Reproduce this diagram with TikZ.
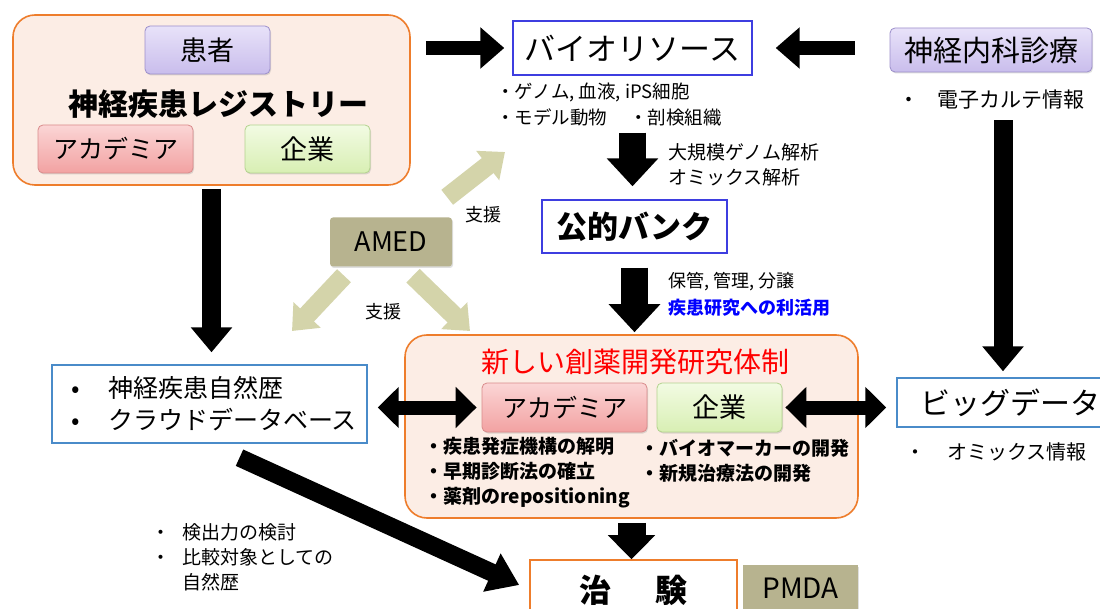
\documentclass[tikz,border=0pt]{standalone}
\usepackage{fontspec}
\setmainfont{Noto Sans CJK JP}
\usetikzlibrary{arrows.meta,shadows}
\definecolor{orgC}{HTML}{EE7D2C}
\definecolor{peach}{HTML}{FCEDE5}
\definecolor{purT}{HTML}{E8E2F9}
\definecolor{purB}{HTML}{C9BDEC}
\definecolor{purD}{HTML}{9C8FCB}
\definecolor{pinkT}{HTML}{FBD5D5}
\definecolor{pinkB}{HTML}{F2A2A2}
\definecolor{pinkD}{HTML}{D98B8B}
\definecolor{grnT}{HTML}{F2FBE3}
\definecolor{grnB}{HTML}{D8EFB3}
\definecolor{grnD}{HTML}{B3D38E}
\definecolor{bioB}{HTML}{3E3EE0}
\definecolor{stB}{HTML}{4A8BC9}
\definecolor{oliveC}{HTML}{B7B38F}
\definecolor{ltA}{HTML}{D4D4AA}
\begin{document}
\begin{tikzpicture}[x=1pt,y=-1pt,
  bigbox/.style={draw=orgC, line width=1.6pt, rounded corners=22pt, fill=peach, inner sep=0pt},
  shd/.style={drop shadow={opacity=0.25,shadow xshift=1pt,shadow yshift=-1.5pt}},
  tagP/.style={draw=purD, line width=0.8pt, rounded corners=5pt, top color=purT, bottom color=purB, shd, inner sep=0pt},
  tagR/.style={draw=pinkD, line width=0.8pt, rounded corners=5pt, top color=pinkT, bottom color=pinkB, shd, inner sep=0pt},
  tagG/.style={draw=grnD, line width=0.8pt, rounded corners=5pt, top color=grnT, bottom color=grnB, shd, inner sep=0pt},
  framebox/.style={draw=bioB, line width=1.4pt, fill=white, inner sep=0pt},
  stbox/.style={draw=stB, line width=1.4pt, fill=white, inner sep=0pt},
  olbox/.style={fill=oliveC, rounded corners=3pt, shd, inner sep=0pt},
  txt/.style={inner sep=0pt, anchor=west, align=left},
  Ah/.style={line width=14pt, -{Triangle[width=40pt,length=24pt]}},
  Ad/.style={line width=14pt, {Triangle[width=40pt,length=21pt]}-{Triangle[width=40pt,length=21pt]}},
  Av/.style={line width=19pt, -{Triangle[width=40pt,length=25pt]}},
  Aw/.style={line width=27pt, -{Triangle[width=50pt,length=28pt]}},
  Ag/.style={line width=18pt, -{Triangle[width=40pt,length=30pt]}},
  Al/.style={line width=19pt, draw=ltA, -{Triangle[width=36pt,length=22pt]}}
]
\useasboundingbox (0,0) rectangle (1100,609);
\fill[white] (0,0) rectangle (1100,609);

% registry
\node[bigbox, minimum width=397pt, minimum height=170pt] (reg) at (211.5,100) {};
\node[tagP, minimum width=125pt, minimum height=48pt, font=\fontsize{27}{30}\selectfont] (pat) at (207.5,50) {患者};
\node[inner sep=0pt, font=\fontsize{30}{34}\selectfont\bfseries] (regt) at (218,104) {神経疾患レジストリー};
\node[tagR, minimum width=155pt, minimum height=48pt, font=\fontsize{25}{28}\selectfont] (rac) at (115.5,149) {アカデミア};
\node[tagG, minimum width=125pt, minimum height=48pt, font=\fontsize{27}{30}\selectfont] (rco) at (307.5,149) {企業};

% bioresource
\node[framebox, minimum width=239pt, minimum height=54pt, font=\fontsize{31}{34}\selectfont] (bio) at (632.5,48) {バイオリソース};
\node[txt, font=\fontsize{18.5}{26}\selectfont] (biot) at (496,105) {・ゲノム, 血液, iPS細胞\\・モデル動物\hspace{22pt}・剖検組織};

% neurology
\node[tagP, minimum width=202pt, minimum height=44pt, font=\fontsize{29}{32}\selectfont] (neu) at (991,50) {神経内科診療};
\node[txt, font=\fontsize{21}{24}\selectfont] (neut) at (898,100) {・\hspace{18pt}電子カルテ情報};

% bank
\node[framebox, minimum width=185pt, minimum height=53pt, font=\fontsize{31}{34}\selectfont\bfseries] (bank) at (634.5,226.5) {公的バンク};
\node[txt, font=\fontsize{19}{25}\selectfont] (ana) at (668,165) {大規模ゲノム解析\\オミックス解析};
\node[txt, font=\fontsize{18}{27}\selectfont] (bankt) at (668,294) {保管, 管理, 分譲\\\textcolor{blue}{\bfseries 疾患研究への利活用}};

% AMED
\node[olbox, minimum width=122pt, minimum height=49pt, font=\fontsize{27}{30}\selectfont] (amed) at (391,242) {AMED};
\node[inner sep=0pt, font=\fontsize{18}{20}\selectfont] (s1) at (483,215) {支援};
\node[inner sep=0pt, font=\fontsize{18}{20}\selectfont] (s2) at (383,312) {支援};

% natural history
\node[stbox, minimum width=315pt, minimum height=78pt, text width=277pt, align=left, font=\fontsize{25}{32}\selectfont] (nat) at (209.5,404) {\makebox[37pt][l]{•}神経疾患自然歴\\\makebox[37pt][l]{•}クラウドデータベース};

% new system
\node[bigbox, minimum width=453pt, minimum height=183pt] (nb) at (631.5,426.5) {};
\node[inner sep=0pt, text=red, font=\fontsize{28}{32}\selectfont] (nbt) at (635,362) {新しい創薬開発研究体制};
\node[tagR, minimum width=165pt, minimum height=49pt, font=\fontsize{25}{28}\selectfont] (nac) at (564.5,407.5) {アカデミア};
\node[tagG, minimum width=125pt, minimum height=49pt, font=\fontsize{27}{30}\selectfont] (nco) at (719.5,407.5) {企業};
\node[txt, font=\fontsize{19}{25}\selectfont\bfseries] (nbl) at (424,473) {・疾患発症機構の解明\\・早期診断法の確立\\・薬剤のrepositioning};
\node[txt, font=\fontsize{19}{25}\selectfont\bfseries] (nbr) at (640,460.5) {・バイオマーカーの開発\\・新規治療法の開発};

% big data
\node[stbox, minimum width=226pt, minimum height=49pt, font=\fontsize{30}{34}\selectfont] (big) at (1010,402.5) {ビッグデータ};
\node[txt, font=\fontsize{20}{22}\selectfont] (bigt) at (905,452) {・\hspace{22pt}オミックス情報};

% trial
\node[draw=orgC, line width=1.6pt, fill=white, minimum width=207pt, minimum height=60pt, inner sep=0pt, font=\fontsize{32}{36}\selectfont\bfseries] (trial) at (633.5,590) {治\hspace{45pt}験};
\node[olbox, rounded corners=0pt, minimum width=115pt, minimum height=46pt, font=\fontsize{28}{30}\selectfont] (pmda) at (800.5,588) {PMDA};
\node[txt, font=\fontsize{19}{25}\selectfont] (lowt) at (151,557) {・\hspace{12pt}検出力の検討\\・\hspace{12pt}比較対象としての\\\hspace{31pt}自然歴};

% black arrows
\draw[Ah, shorten <=15pt, shorten >=8pt] (reg.east |- bio.west) -- (bio.west);
\draw[Ah, shorten <=35pt, shorten >=23pt] (neu.west |- bio.east) -- (bio.east);
\draw[Av, shorten <=48pt, shorten >=6pt] ([xshift=12pt]neu.south) -- ([xshift=12pt]neu.south |- big.north);
\draw[Av, shorten <=3pt, shorten >=12pt] (reg.south) -- (reg.south |- nat.north);
\draw[Aw, shorten <=57pt, shorten >=13pt] (bio.south) -- (bio.south |- bank.north);
\draw[Aw, shorten <=14pt, shorten >=2pt] (bank.south) -- (bank.south |- nb.north);
\draw[Aw, line width=28pt, -{Triangle[width=46pt,length=24pt]}, shorten <=4pt] (nb.south) -- (nb.south |- trial.north);
\draw[Ad, shorten <=10pt, shorten >=5pt] (nat.east |- nac.west) -- (nac.west);
\draw[Ad, shorten <=3pt, shorten >=10pt] (nco.east) -- (nco.east -| big.west);
\draw[Ag] ([xshift=30pt,yshift=-14pt]nat.south) -- ([xshift=-10pt,yshift=5pt]trial.west);

% support arrows
\coordinate (tUR) at (505,152);
\coordinate (tLL) at (292,331);
\coordinate (tLR) at (470,331);
\draw[Al] ([xshift=-5pt,yshift=20pt]amed.north east) -- (tUR);
\draw[Al] ([xshift=-47pt,yshift=-9pt]amed.south) -- (tLL);
\draw[Al] ([xshift=22pt,yshift=-9pt]amed.south) -- (tLR);
\end{tikzpicture}
\end{document}
